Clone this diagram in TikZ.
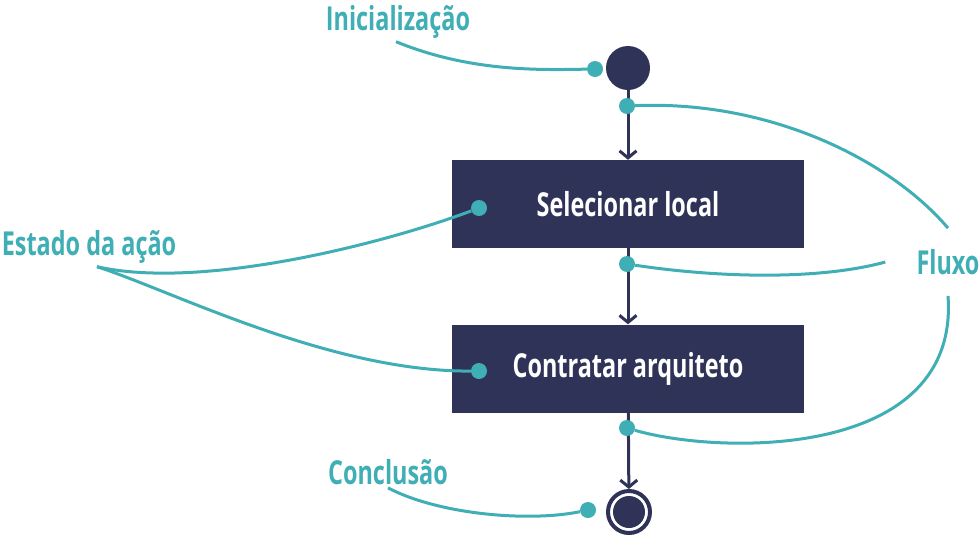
\documentclass[tikz,border=0pt]{standalone}
\usepackage{fontspec}
\setmainfont[FakeStretch=0.71]{Open Sans}
\usetikzlibrary{arrows.meta, positioning}
\usepackage{xcolor}
\definecolor{navy}{HTML}{2F3358}
\definecolor{flowteal}{HTML}{40AEB5}

\begin{document}
\begin{tikzpicture}[x=1pt, y=-1pt,
  action/.style={fill=navy, minimum width=352pt, minimum height=88pt, text=white, font=\bfseries\fontsize{33}{36}\selectfont},
  note/.style={text=flowteal, inner sep=3pt, font=\bfseries\fontsize{33}{36}\selectfont},
  dot/.style={circle, fill=flowteal, inner sep=0pt, minimum size=16pt},
  flow/.style={navy, line width=3pt, -{Straight Barb[length=7pt, width=17pt, line width=3pt]}},
  link/.style={flowteal, line width=3pt}]
\useasboundingbox (0,0) rectangle (980,536);

% Start and end
\node[circle, fill=navy, inner sep=0pt, minimum size=44pt] (start) at (628,68) {};
\node[circle, draw=navy, line width=4pt, inner sep=0pt, minimum size=42pt] (end) at (629,512) {};
\node[circle, fill=navy, inner sep=0pt, minimum size=32pt] (endfill) at (end) {};

% Action states
\node[action] (select) at (628,204) {Selecionar local};
\node[action] (hire) at (628,368.5) {Contratar arquiteto};

% Flow arrows
\draw[flow] (start) -- (select);
\draw[flow] (select) -- (hire);
\draw[flow] (hire) -- (end);

% Labels
\node[note] (init) at (398,22) {Inicialização};
\node[note] (estado) at (89,247) {Estado da ação};
\node[note, inner xsep=31pt, inner ysep=21pt] (fluxo) at (948,262) {Fluxo};
\node[note] (concl) at (388,472) {Conclusão};

% Marker dots
\node[dot] (initdot) at (595,69) {};
\node[dot] (selectdot) at (479,208) {};
\node[dot] (hiredot) at (479,371) {};
\node[dot] (concldot) at (588,510) {};
\node[dot] (flow0) at (627,106) {};
\node[dot] (flow1) at (627,264) {};
\node[dot] (flow2) at (627,428) {};

% Pointer curves
\draw[link] ([xshift=-2pt]init.south) .. controls (470,72) and (540,70) .. (initdot);
\draw[link] ([xshift=8pt]estado.south) .. controls (200,290) and (380,245) .. (selectdot);
\draw[link] ([xshift=8pt]estado.south) .. controls (170,290) and (330,372) .. (hiredot);
\draw[link] (concl.south) .. controls (440,515) and (530,522) .. (concldot);
\draw[link] (flow0) .. controls (770,100) and (890,160) .. (fluxo.north);
\draw[link] (flow1) .. controls (720,278) and (820,280) .. (fluxo.west);
\draw[link] (flow2) .. controls (720,455) and (960,460) .. (fluxo.south);
\end{tikzpicture}
\end{document}
